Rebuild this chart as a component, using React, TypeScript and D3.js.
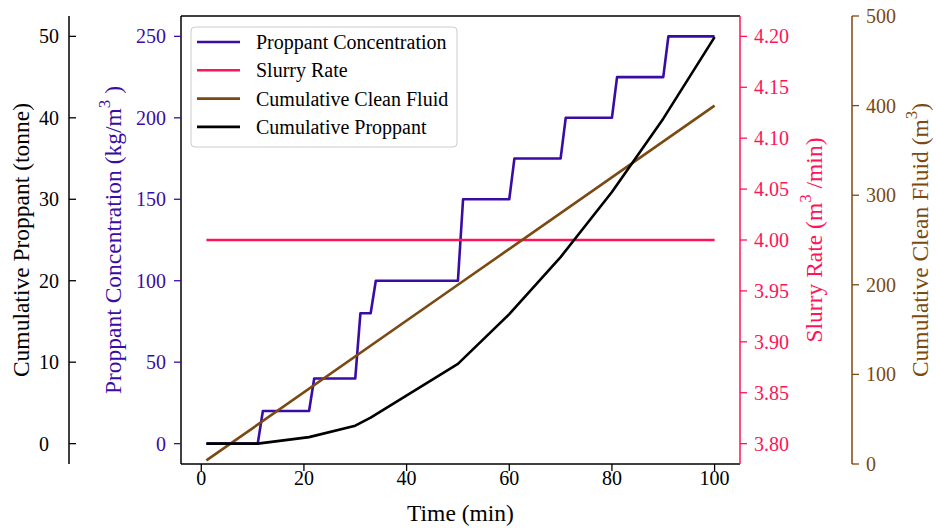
import React from "react";
import * as d3 from "d3";

// ---- Data ----
const concTime = [1, 11, 12, 21, 22, 30, 31, 33, 34, 50, 51, 60, 61, 70, 71, 80, 81, 90, 91, 100];
const concValues = [0, 0, 20, 20, 40, 40, 80, 80, 100, 100, 150, 150, 175, 175, 200, 200, 225, 225, 250, 250];

const slurryTime = [1, 100];
const slurryValues = [4.0, 4.0];

const fluidTime = [1, 50, 100];
const fluidValues = [4, 200, 400];

const cumPropTime = [1, 11, 21, 30, 33, 50, 60, 70, 80, 90, 100];
const cumPropValues = [0, 0, 0.8, 2.2, 3.2, 9.8, 15.9, 22.9, 30.9, 39.9, 49.9];

const xTicks = [0, 20, 40, 60, 80, 100];
const concTicks = [0, 50, 100, 150, 200, 250];
const cumTicks = [0, 10, 20, 30, 40, 50];
const slurryTicks = [3.8, 3.85, 3.9, 3.95, 4.0, 4.05, 4.1, 4.15, 4.2];
const fluidTicks = [0, 100, 200, 300, 400, 500];

const legendLabels = ["Proppant Concentration", "Slurry Rate", "Cumulative Clean Fluid", "Cumulative Proppant"];

// ---- Styles ----
const PURPLE = "#3a0ca3";
const RED = "#ff1458";
const BROWN = "#7b4a12";
const BLACK = "#000000";
const FONT = "Liberation Serif";

const W = 936;
const H = 528;
const L = 181, R = 740, T = 16, B = 464;

export default function App() {
  const x = d3.scaleLinear().domain([-3.95, 104.95]).range([L, R]);
  const yConc = d3.scaleLinear().domain([-12.5, 262.5]).range([B, T]);
  const yCum = d3.scaleLinear().domain([-2.5, 52.5]).range([B, T]);
  const ySl = d3.scaleLinear().domain([3.78, 4.22]).range([B, T]);
  const yFl = d3.scaleLinear().domain([0, 500]).range([B, T]);

  const mk = (ts: number[], vs: number[], y: d3.ScaleLinear<number, number>) =>
    d3.line<number>().x((_, i) => x(ts[i])).y((v) => y(v))(vs) || "";

  const legendColors = [PURPLE, RED, BROWN, BLACK];
  const fs = 20;
  const lfs = 23.5;
  const tf = { fontFamily: FONT };

  return (
    <svg width={W} height={H} style={{ position: "absolute", left: 0, top: 0, background: "#fff", fontFamily: FONT }}>
      <rect x={0} y={0} width={W} height={H} fill="#fff" />
      <defs>
        <clipPath id="plotclip">
          <rect x={L} y={T} width={R - L} height={B - T} />
        </clipPath>
      </defs>

      {/* lines */}
      <g clipPath="url(#plotclip)" fill="none" strokeWidth={2.6} strokeLinejoin="round">
        <path d={mk(concTime, concValues, yConc)} stroke={PURPLE} />
        <path d={mk(slurryTime, slurryValues, ySl)} stroke={RED} />
        <path d={mk(fluidTime, fluidValues, yFl)} stroke={BROWN} />
        <path d={mk(cumPropTime, cumPropValues, yCum)} stroke={BLACK} />
      </g>

      {/* main box spines */}
      <line x1={L} y1={T} x2={R} y2={T} stroke="#000" strokeWidth={1.5} />
      <line x1={L} y1={B} x2={R} y2={B} stroke="#000" strokeWidth={1.5} />
      <line x1={L} y1={T} x2={L} y2={B} stroke="#000" strokeWidth={1.5} />
      <line x1={R} y1={T} x2={R} y2={B} stroke={RED} strokeWidth={1.5} />

      {/* x axis */}
      {xTicks.map((t) => (
        <g key={"x" + t}>
          <line x1={x(t)} x2={x(t)} y1={B} y2={B + 7} stroke="#000" strokeWidth={1.3} />
          <text x={x(t)} y={B + 21} fontSize={fs} textAnchor="middle" style={tf}>{t}</text>
        </g>
      ))}
      <text x={(L + R) / 2} y={521} fontSize={lfs} textAnchor="middle" style={tf}>Time (min)</text>

      {/* purple (conc) axis on main left */}
      {concTicks.map((t) => (
        <g key={"c" + t}>
          <line x1={L - 7} x2={L} y1={yConc(t)} y2={yConc(t)} stroke={PURPLE} strokeWidth={1.3} />
          <text x={L - 15} y={yConc(t) + 7} fontSize={fs} textAnchor="end" fill={PURPLE} style={tf}>{t}</text>
        </g>
      ))}
      <text transform={`translate(121,${(T + B) / 2}) rotate(-90)`} fontSize={lfs} textAnchor="middle" fill={PURPLE} style={tf}>
        Proppant Concentration (kg/m<tspan dy={-11} fontSize={17}>3</tspan><tspan dy={11}> )</tspan>
      </text>

      {/* outer left cumulative proppant axis */}
      <line x1={69} x2={69} y1={T} y2={B} stroke="#000" strokeWidth={1.5} />
      {cumTicks.map((t) => (
        <g key={"p" + t}>
          <line x1={69} x2={76} y1={yCum(t)} y2={yCum(t)} stroke="#000" strokeWidth={1.3} />
          <text x={39} y={yCum(t) + 7} fontSize={fs} textAnchor="start" style={tf}>{t}</text>
        </g>
      ))}
      <text transform={`translate(29,${(T + B) / 2}) rotate(-90)`} fontSize={lfs} textAnchor="middle" style={tf}>
        Cumulative Proppant (tonne)
      </text>

      {/* red slurry axis */}
      {slurryTicks.map((t) => (
        <g key={"s" + t}>
          <line x1={R} x2={R + 7} y1={ySl(t)} y2={ySl(t)} stroke={RED} strokeWidth={1.3} />
          <text x={R + 14} y={ySl(t) + 7} fontSize={fs} textAnchor="start" fill={RED} style={tf}>{t.toFixed(2)}</text>
        </g>
      ))}
      <text transform={`translate(822,${(T + B) / 2}) rotate(-90)`} fontSize={lfs} textAnchor="middle" fill={RED} style={tf}>
        Slurry Rate (m<tspan dy={-11} fontSize={17}>3</tspan><tspan dy={11}> /min)</tspan>
      </text>

      {/* brown fluid axis */}
      <line x1={852} x2={852} y1={T} y2={B} stroke={BROWN} strokeWidth={1.5} />
      {fluidTicks.map((t) => (
        <g key={"f" + t}>
          <line x1={852} x2={859} y1={yFl(t)} y2={yFl(t)} stroke={BROWN} strokeWidth={1.3} />
          <text x={866} y={yFl(t) + 7} fontSize={fs} textAnchor="start" fill={BROWN} style={tf}>{t}</text>
        </g>
      ))}
      <text transform={`translate(928,${(T + B) / 2}) rotate(-90)`} fontSize={lfs} textAnchor="middle" fill={BROWN} style={tf}>
        Cumulative Clean Fluid (m<tspan dy={-11} fontSize={17}>3</tspan><tspan dy={11}>)</tspan>
      </text>

      {/* legend */}
      <rect x={191} y={27} width={266} height={120} rx={4} fill="#fff" fillOpacity={0.85} stroke="#cccccc" strokeWidth={1} />
      {legendLabels.map((lab, i) => (
        <g key={lab}>
          <line x1={197} x2={240} y1={42 + i * 28.3} y2={42 + i * 28.3} stroke={legendColors[i]} strokeWidth={2.6} />
          <text x={256} y={42 + i * 28.3 + 7} fontSize={fs} style={tf}>{lab}</text>
        </g>
      ))}
    </svg>
  );
}
